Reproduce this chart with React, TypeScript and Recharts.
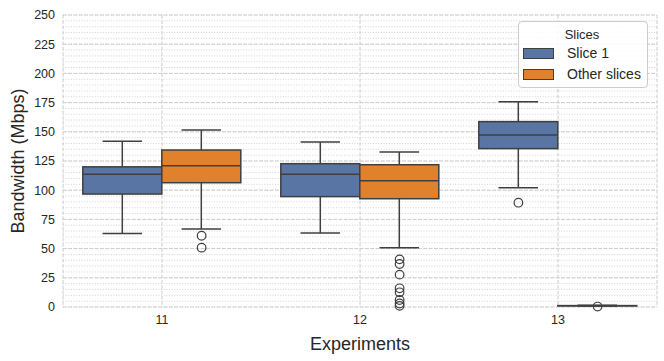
import React from "react";
import {
  ComposedChart,
  Bar,
  Scatter,
  XAxis,
  YAxis,
  CartesianGrid,
  Legend,
} from "recharts";

const FONT = "'Liberation Sans', Arial, sans-serif";
const EDGE = "#3f3f3f";

const experiments = ["11", "12", "13"];
const yDomain = [0, 250];
const yTicks = [0, 25, 50, 75, 100, 125, 150, 175, 200, 225, 250];
// dotted minor grid every 5 Mbps
const minorTicks = Array.from({ length: 51 }, (_, i) => i * 5);

// Slice 1 box stats (Mbps)
const slice1Min = [63, 63.4, 102.2];
const slice1Q1 = [96.7, 94.5, 135.6];
const slice1Median = [113.6, 113.6, 147.3];
const slice1Q3 = [120, 122.7, 158.7];
const slice1Max = [142, 141.3, 175.8];
const slice1Outliers = [[], [], [89.3]];

// Other slices
const otherMin = [66.8, 50.8, 0.9];
const otherQ1 = [106.4, 92.7, 1.0];
const otherMedian = [121, 108.1, 1.1];
const otherQ3 = [134.4, 121.8, 1.2];
const otherMax = [151.5, 132.7, 1.4];
const otherOutliers = [
  [61, 50.8],
  [40.8, 36.8, 27.7, 16, 12.6, 6, 3, 1],
  [0.4],
];

const series = [
  {
    key: "slice1",
    name: "Slice 1",
    color: "#5975a4",
    offset: -0.2,
    min: slice1Min,
    q1: slice1Q1,
    median: slice1Median,
    q3: slice1Q3,
    max: slice1Max,
    outliers: slice1Outliers,
  },
  {
    key: "other",
    name: "Other slices",
    color: "#e1812c",
    offset: 0.2,
    min: otherMin,
    q1: otherQ1,
    median: otherMedian,
    q3: otherQ3,
    max: otherMax,
    outliers: otherOutliers,
  },
];

// each bar spans whisker to whisker; the shape fills in the box
const chartData = experiments.map((exp, i) => {
  const row: any = { exp, idx: i };
  series.forEach((s) => {
    row[s.key] = [s.min[i], s.max[i]];
  });
  return row;
});

const outlierData = series.map((s) =>
  experiments.flatMap((exp, i) =>
    s.outliers[i].map((v) => ({ pos: Number(exp) + s.offset, value: v }))
  )
);

const makeBox = (s: any) => (props: any) => {
  const { x, y, width, height, payload } = props;
  const i = payload ? payload.idx : props.index;
  const min = s.min[i];
  const max = s.max[i];
  const top = Math.min(y, y + height);
  const h = Math.abs(height);
  const span = max - min;
  const py = (v: number) => (span > 0 ? top + ((max - v) / span) * h : top);
  const cx = x + width / 2;
  const cap = width / 4;
  const line = { stroke: EDGE, strokeWidth: 1.5 };
  return (
    <g>
      <line x1={cx} x2={cx} y1={py(max)} y2={py(s.q3[i])} {...line} />
      <line x1={cx} x2={cx} y1={py(s.q1[i])} y2={py(min)} {...line} />
      <line x1={cx - cap} x2={cx + cap} y1={py(max)} y2={py(max)} {...line} />
      <line x1={cx - cap} x2={cx + cap} y1={py(min)} y2={py(min)} {...line} />
      <rect
        x={x}
        y={py(s.q3[i])}
        width={width}
        height={Math.max(py(s.q1[i]) - py(s.q3[i]), 0)}
        fill={s.color}
        {...line}
      />
      <line
        x1={x}
        x2={x + width}
        y1={py(s.median[i])}
        y2={py(s.median[i])}
        {...line}
      />
    </g>
  );
};

const Hollow = (props: any) => (
  <circle
    cx={props.cx}
    cy={props.cy}
    r={4.3}
    fill="none"
    stroke={EDGE}
    strokeWidth={1.2}
  />
);

const LegendBox = (props: any) => {
  const payload = props.payload || [];
  // keep the series order, not the legend's alphabetical one
  const items = series.map((s) => {
    const p = payload.find((e: any) => e.value === s.name);
    return { value: s.name, color: p ? p.color : s.color };
  });
  return (
    <div
      style={{
        border: "1px solid #cccccc",
        borderRadius: 4,
        background: "rgba(255,255,255,0.85)",
        padding: "4px 6px 2px 4px",
        fontFamily: FONT,
        color: "#262626",
        boxSizing: "border-box",
      }}
    >
      <div style={{ textAlign: "center", fontSize: 13, lineHeight: "17px" }}>
        Slices
      </div>
      {items.map((p) => (
        <div
          key={p.value}
          style={{
            display: "flex",
            alignItems: "center",
            fontSize: 14,
            lineHeight: "21px",
          }}
        >
          <span
            style={{
              display: "inline-block",
              width: 29,
              height: 9,
              background: p.color,
              border: `1px solid ${EDGE}`,
              marginRight: 13,
            }}
          />
          <span>{p.value}</span>
        </div>
      ))}
    </div>
  );
};

// minor grid rows: use the axis scale when we get one, else the plot box
const minorLines = (props: any) => {
  const yAxis = props && props.yAxis;
  if (yAxis && typeof yAxis.scale === "function") {
    return minorTicks.map((t) => yAxis.scale(t));
  }
  const off = props && props.offset;
  if (!off || off.height == null) return [];
  const [lo, hi] = yDomain;
  return minorTicks.map((t) => off.top + off.height * (1 - (t - lo) / (hi - lo)));
};

export default function App() {
  return (
    <div style={{ position: "absolute", left: 0, top: 0, fontFamily: FONT }}>
      <ComposedChart
        width={664}
        height={361}
        data={chartData}
        margin={{ top: 15, right: 7, left: 0, bottom: 0 }}
        barCategoryGap="10%"
        barGap={0}
        style={{ fontFamily: FONT }}
      >
        <CartesianGrid
          vertical={false}
          horizontalCoordinatesGenerator={minorLines}
          stroke="#d2d2d2"
          strokeDasharray="1 1.65"
        />
        <CartesianGrid stroke="#cccccc" strokeDasharray="3.7 1.6" />
        <XAxis
          dataKey="exp"
          axisLine={false}
          tickLine={false}
          height={54}
          tick={{ fontSize: 12.5, fill: "#262626", fontFamily: FONT }}
          label={{
            value: "Experiments",
            position: "insideBottom",
            offset: 11,
            style: { fontSize: 18, fill: "#262626", fontFamily: FONT },
          }}
        />
        <XAxis
          xAxisId="pos"
          dataKey="pos"
          type="number"
          domain={[10.5, 13.5]}
          hide
        />
        <YAxis
          domain={yDomain}
          ticks={yTicks}
          width={63}
          axisLine={false}
          tickLine={false}
          tick={{ fontSize: 12.5, fill: "#262626", fontFamily: FONT }}
          label={{
            value: "Bandwidth (Mbps)",
            angle: -90,
            position: "insideLeft",
            offset: 18,
            style: {
              fontSize: 18,
              fill: "#262626",
              textAnchor: "middle",
              fontFamily: FONT,
            },
          }}
        />
        <Legend
          layout="horizontal"
          verticalAlign="middle"
          align="center"
          content={<LegendBox />}
          wrapperStyle={{ top: 21, left: 518, width: 130 }}
        />
        {series.map((s) => (
          <Bar
            key={s.key}
            dataKey={s.key}
            name={s.name}
            fill={s.color}
            shape={makeBox(s)}
            isAnimationActive={false}
          />
        ))}
        {series.map((s, k) => (
          <Scatter
            key={s.key + "-out"}
            xAxisId="pos"
            data={outlierData[k]}
            dataKey="value"
            shape={<Hollow />}
            legendType="none"
            isAnimationActive={false}
          />
        ))}
      </ComposedChart>
    </div>
  );
}
